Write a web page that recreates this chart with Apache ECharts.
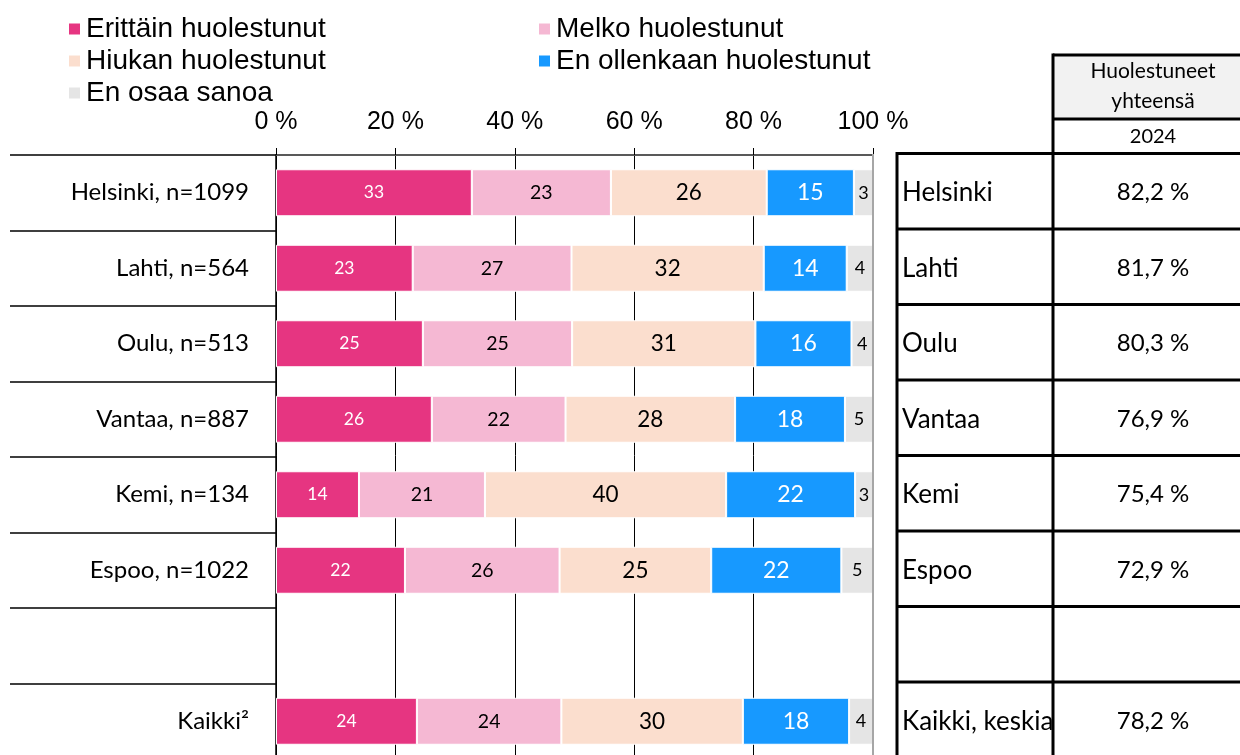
<!DOCTYPE html>
<html>
<head>
<meta charset="utf-8">
<script src="https://cdn.jsdelivr.net/npm/echarts@6/dist/echarts.min.js"></script>
<style>
  html, body { margin: 0; padding: 0; background: #fff; }
  #chart { width: 1240px; height: 755px; }
</style>
</head>
<body>
<div id="chart"></div>
<script>
// Row labels (the blank row separates the cities from the overall figure)
const categories = ['Helsinki, n=1099', 'Lahti, n=564', 'Oulu, n=513', 'Vantaa, n=887',
                    'Kemi, n=134', 'Espoo, n=1022', '', 'Kaikki²'];

const seriesNames = ['Erittäin huolestunut', 'Melko huolestunut', 'Hiukan huolestunut',
                     'En ollenkaan huolestunut', 'En osaa sanoa'];

// Shares (%) per answer option
const erittain    = [32.8, 22.9, 24.6, 26.1, 13.9, 21.6, null, 23.6];
const melko       = [23.3, 26.6, 25.0, 22.4, 21.1, 25.9, null, 24.2];
const hiukan      = [26.1, 32.2, 30.7, 28.4, 40.4, 25.4, null, 30.4];
const enOllenkaan = [14.6, 13.9, 16.1, 18.4, 21.6, 21.8, null, 17.8];
const enOsaa      = [3.2, 4.4, 3.6, 4.7, 3.0, 5.3, null, 4.0];

// Side table: worried in total, 2024
const tableNames = ['Helsinki', 'Lahti', 'Oulu', 'Vantaa', 'Kemi', 'Espoo', '', 'Kaikki, keskiarvo'];
const totals2024 = [82.2, 81.7, 80.3, 76.9, 75.4, 72.9, null, 78.2];
const tableHeader = ['Huolestuneet', 'yhteensä'];
const tableYear = '2024';

const xTicks = [0, 20, 40, 60, 80, 100];

const colors = ['#E63581', '#F5B8D3', '#FBDECE', '#1799FF', '#E5E5E5'];
const labelColors = ['#ffffff', '#000000', '#000000', '#ffffff', '#000000'];
const labelSizes = [17.5, 19.5, 22.5, 23, 18];
const seriesData = [erittain, melko, hiukan, enOllenkaan, enOsaa];

const BODY_FONT = 'Lato';
const AXIS_FONT = 'Liberation Sans';

const chart = echarts.init(document.getElementById('chart'));

const series = seriesNames.map((name, i) => ({
  name: name,
  type: 'bar',
  stack: 'total',
  barWidth: 47,
  data: seriesData[i],
  itemStyle: { color: colors[i], borderColor: '#ffffff', borderWidth: 1 },
  label: {
    show: true,
    position: 'inside',
    formatter: p => (p.value == null ? '' : String(Math.round(p.value))),
    color: labelColors[i],
    fontFamily: BODY_FONT,
    fontSize: labelSizes[i]
  },
  emphasis: { disabled: true }
}));

const legendText = { fontFamily: AXIS_FONT, fontSize: 28, color: '#000', lineHeight: 27 };

chart.setOption({
  animation: false,
  backgroundColor: '#ffffff',
  legend: [
    {
      left: 62, top: 10, orient: 'vertical', itemGap: 4,
      itemWidth: 13, itemHeight: 13, icon: 'rect', selectedMode: false,
      data: [seriesNames[0], seriesNames[2], seriesNames[4]],
      textStyle: legendText
    },
    {
      left: 532, top: 10, orient: 'vertical', itemGap: 4,
      itemWidth: 13, itemHeight: 13, icon: 'rect', selectedMode: false,
      data: [seriesNames[1], seriesNames[3]],
      textStyle: legendText
    }
  ],
  grid: { left: 276, top: 155, width: 597, height: 604, containLabel: false, outerBoundsMode: 'none' },
  xAxis: {
    type: 'value',
    position: 'top',
    min: xTicks[0],
    max: xTicks[xTicks.length - 1],
    interval: 20,
    axisLabel: {
      formatter: '{value} %', fontFamily: AXIS_FONT, fontSize: 25, color: '#000', margin: 20
    },
    axisLine: { show: true, lineStyle: { color: '#595959', width: 2 } },
    axisTick: { show: true, inside: false, length: 7, lineStyle: { color: '#000', width: 1 } },
    splitLine: {
      show: true,
      lineStyle: { color: ['#000', '#000', '#000', '#000', '#000', '#ffffff'], width: 1 }
    }
  },
  yAxis: {
    type: 'category',
    inverse: true,
    data: categories,
    axisLine: { show: true, lineStyle: { color: '#000', width: 1.5 } },
    axisTick: { show: true, interval: 0, length: 266, lineStyle: { color: '#000', width: 1.5 } },
    axisLabel: { interval: 0, margin: 27, fontFamily: BODY_FONT, fontSize: 24, color: '#000' },
    splitLine: { show: false }
  },
  series: series
});

// Side table and right frame line, placed from the category axis positions
function drawTable() {
  const yAt = i => chart.convertToPixel({ yAxisIndex: 0 }, i);
  const band = yAt(1) - yAt(0);
  const x100 = chart.convertToPixel({ xAxisIndex: 0 }, xTicks[xTicks.length - 1]);
  const topY = yAt(0) - band / 2;
  const bottomY = yAt(categories.length - 1) + band / 2;

  const colA = 897, colB = 1053, colEnd = 1242, headTop = 55, headMid = 119;
  const valueX = 1153;
  const els = [];

  // right frame of the bar area
  els.push({ type: 'line', z: 20, shape: { x1: x100, y1: topY - 1, x2: x100, y2: bottomY },
             style: { stroke: '#a6a6a6', lineWidth: 2 } });

  // header cell
  els.push({ type: 'rect', z: 10, shape: { x: colB, y: headTop, width: colEnd - colB, height: headMid - headTop },
             style: { fill: '#f2f2f2' } });
  els.push({ type: 'text', z: 30, style: { text: tableHeader[0], x: valueX, y: 71, textAlign: 'center',
             textVerticalAlign: 'middle', fontFamily: BODY_FONT, fontSize: 21, fill: '#000' } });
  els.push({ type: 'text', z: 30, style: { text: tableHeader[1], x: valueX, y: 101, textAlign: 'center',
             textVerticalAlign: 'middle', fontFamily: BODY_FONT, fontSize: 21, fill: '#000' } });
  els.push({ type: 'text', z: 30, style: { text: tableYear, x: valueX, y: 137, textAlign: 'center',
             textVerticalAlign: 'middle', fontFamily: BODY_FONT, fontSize: 20, fill: '#000' } });

  // body rows
  tableNames.forEach((name, i) => {
    const cy = yAt(i);
    els.push({ type: 'text', z: 12, style: { text: name, x: colA + 5, y: cy, textAlign: 'left',
               textVerticalAlign: 'middle', fontFamily: BODY_FONT, fontSize: 26, fill: '#000' } });
    // names stop at the column border
    els.push({ type: 'rect', z: 13, shape: { x: colB, y: cy - band / 2 + 2, width: colEnd - colB, height: band - 4 },
               style: { fill: '#ffffff' } });
    if (totals2024[i] != null) {
      els.push({ type: 'text', z: 30, style: { text: totals2024[i].toFixed(1).replace('.', ',') + ' %',
                 x: valueX, y: cy, textAlign: 'center', textVerticalAlign: 'middle',
                 fontFamily: BODY_FONT, fontSize: 24, fill: '#000' } });
    }
  });

  // grid lines of the table
  const lineStyle = { stroke: '#000', lineWidth: 3 };
  for (let i = 0; i <= categories.length; i++) {
    const y = topY + i * band - 1.5;
    els.push({ type: 'line', z: 40, shape: { x1: colA, y1: y, x2: colEnd, y2: y }, style: lineStyle });
  }
  els.push({ type: 'line', z: 40, shape: { x1: colB, y1: headTop, x2: colEnd, y2: headTop }, style: lineStyle });
  els.push({ type: 'line', z: 40, shape: { x1: colB, y1: headMid, x2: colEnd, y2: headMid }, style: lineStyle });
  els.push({ type: 'line', z: 40, shape: { x1: colA, y1: topY - 3, x2: colA, y2: bottomY + 5 }, style: lineStyle });
  els.push({ type: 'line', z: 40, shape: { x1: colB, y1: headTop - 1.5, x2: colB, y2: bottomY + 5 }, style: lineStyle });

  chart.setOption({ graphic: { elements: els } });
}
drawTable();
</script>
</body>
</html>
